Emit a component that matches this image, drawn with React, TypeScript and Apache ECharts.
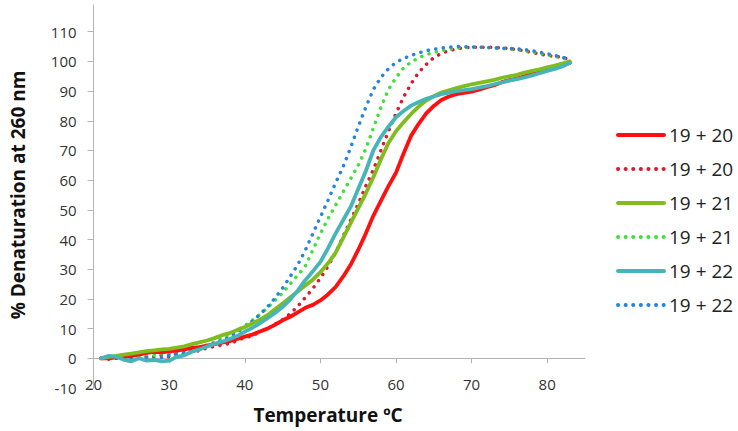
import React, { useEffect, useRef } from "react";
import * as echarts from "echarts";

const temps = [21, 22, 23, 24, 25, 26, 27, 28, 29, 30, 31, 32, 33, 34, 35, 36, 37, 38, 39, 40, 41, 42, 43, 44, 45, 46, 47, 48, 49, 50, 51, 52, 53, 54, 55, 56, 57, 58, 59, 60, 61, 62, 63, 64, 65, 66, 67, 68, 69, 70, 71, 72, 73, 74, 75, 76, 77, 78, 79, 80, 81, 82, 83];

const red20Solid = [0, 0, 0.3, 0.5, 0.8, 1.2, 1.8, 2.2, 2, 2.3, 2.6, 3, 3.5, 3.8, 4.3, 4.8, 5.3, 5.8, 6.5, 7.3, 8, 9, 10, 11.3, 12.8, 14, 15.5, 17, 18, 19.5, 21.5, 24, 27.5, 31.5, 36.5, 42, 48, 53, 58, 62.5, 69, 75, 79, 82.5, 85, 87, 88.2, 89, 89.4, 89.8, 90.5, 91.3, 92, 93, 93.7, 94.2, 95, 95.8, 96.5, 97.3, 98, 98.7, 99.5];
const red20Dotted = [0, -0.3, 0, 0.2, -0.5, 0, 0.5, 0.5, 1, 0.5, 1.5, 1.5, 2.5, 2.5, 3.5, 4, 4.5, 5, 6, 7, 7.5, 9, 10, 11.5, 13, 15, 17.5, 20.5, 23.5, 27, 31, 35.5, 41, 46.5, 52, 58, 63.5, 70, 76.5, 82.5, 88, 92.5, 96.3, 99, 101.3, 102.7, 103.6, 104.2, 104.6, 104.8, 104.8, 104.8, 104.7, 104.5, 104.3, 104, 103.5, 103, 102.5, 102, 101.7, 101.4, 100.5];
const green21Solid = [0, 0.5, 0.8, 1.2, 1.6, 2, 2.4, 2.7, 3, 3.2, 3.6, 4, 4.8, 5.4, 6, 6.8, 7.8, 8.5, 9.5, 10.5, 11.8, 13, 14.5, 16.5, 18.5, 20.5, 22.5, 24.5, 26.5, 29, 32, 35.5, 40.5, 45.5, 50.5, 55.5, 61, 67, 72.5, 76.5, 79.5, 82.3, 84.8, 86.8, 88.3, 89.5, 90.3, 91, 91.7, 92.3, 92.8, 93.3, 93.8, 94.5, 95, 95.5, 96.2, 96.8, 97.3, 98, 98.6, 99.3, 100];
const green21Dotted = [0, 0, 0.2, 0.3, 0, 0.5, 0.8, 1, 1.5, 1.5, 2, 2.5, 3, 3.8, 4.5, 5.5, 6.8, 8, 9.5, 11, 12.8, 14.8, 17, 19.5, 22, 25, 28, 31, 36.5, 42, 47, 51.5, 56, 60.5, 65, 70.5, 77.5, 84.5, 90.5, 94.5, 97.8, 99.8, 101.2, 102.3, 103, 103.6, 104.1, 104.5, 104.7, 104.8, 104.8, 104.7, 104.5, 104.3, 104.1, 103.9, 103.6, 103.2, 102.7, 102.2, 101.7, 101.2, 100.5];
const teal22Solid = [0, 0.8, 0.5, -0.5, -1, 0, -0.8, -0.5, -1, -0.8, 0.5, 1, 2.2, 3, 4, 4.8, 5.6, 6.5, 7.5, 9, 10.3, 11.8, 13.5, 15.3, 17.3, 19.8, 22.8, 26.3, 29.3, 32.5, 37, 42, 46.5, 51, 57, 63, 70, 74.5, 78, 81.2, 83.3, 85.1, 86.3, 87.4, 88.2, 89, 89.5, 90, 90.3, 90.7, 91.2, 91.7, 92.3, 92.9, 93.5, 94, 94.6, 95.3, 96, 96.8, 97.5, 98.3, 99.5];
const blue22Dotted = [0, 0.2, 0, -0.3, 0, 0, 0.3, -0.3, 0.2, 1, 1.5, 2, 2.5, 3.2, 4, 5, 6, 7.2, 8.8, 10.5, 12.5, 14.8, 17.3, 20.3, 23.6, 27.5, 31.5, 36.4, 42, 47.6, 53.2, 59, 64.5, 71, 78, 84.6, 90.5, 94.6, 97.5, 99.7, 101, 102, 102.9, 103.6, 104.1, 104.5, 104.8, 105, 105, 104.9, 104.8, 104.7, 104.6, 104.5, 104.4, 104.2, 104, 103.6, 103.1, 102.6, 102, 101.4, 100.6];

const yTicks = [-10, 0, 10, 20, 30, 40, 50, 60, 70, 80, 90, 100, 110];
const xTicks = [20, 30, 40, 50, 60, 70, 80];

const seriesDefs = [
  { name: "19 + 20", values: red20Solid, color: "#ff1010", dotted: false },
  { name: "19 + 20 ", values: red20Dotted, color: "#e0182e", dotted: true },
  { name: "19 + 21", values: green21Solid, color: "#7fbc1e", dotted: false },
  { name: "19 + 21 ", values: green21Dotted, color: "#3fe03a", dotted: true },
  { name: "19 + 22", values: teal22Solid, color: "#45b5b8", dotted: false },
  { name: "19 + 22 ", values: blue22Dotted, color: "#2384e0", dotted: true },
];

const FONT = "'Open Sans', sans-serif";

export default function App() {
  const ref = useRef<HTMLDivElement>(null);
  useEffect(() => {
    if (!ref.current) return;
    const chart = echarts.init(ref.current, null, { renderer: "svg" });
    chart.setOption({
      animation: false,
      backgroundColor: "#ffffff",
      grid: { left: 93.6, right: 153, top: 5, bottom: 43, containLabel: false },
      xAxis: {
        type: "value",
        min: 20,
        max: 85,
        interval: 10,
        axisLine: { onZero: true, lineStyle: { color: "#b4b4b4", width: 1 } },
        axisTick: { show: true, length: 5, customValues: xTicks, lineStyle: { color: "#b4b4b4" } },
        axisLabel: { customValues: xTicks, margin: -12, fontSize: 15, fontFamily: FONT, color: "#333" },
        splitLine: { show: false },
      },
      yAxis: {
        type: "value",
        min: -10,
        max: 119,
        interval: 10,
        axisLine: { show: true, lineStyle: { color: "#b4b4b4", width: 1 } },
        axisTick: { show: true, length: 6, customValues: yTicks, lineStyle: { color: "#b4b4b4" } },
        axisLabel: { customValues: yTicks, margin: 17, fontSize: 15, fontFamily: FONT, color: "#333" },
        splitLine: { show: false },
      },
      legend: {
        orient: "vertical",
        left: 611,
        top: 120,
        itemWidth: 46,
        itemHeight: 14,
        itemGap: 14,
        data: seriesDefs.map((s) => s.name),
        formatter: (n: string) => n.trim(),
        itemStyle: { color: "rgba(0,0,0,0)", borderWidth: 0, borderColor: "rgba(0,0,0,0)", opacity: 0 },
        lineStyle: { width: 4, cap: "round" },
        textStyle: { fontSize: 19, lineHeight: 20, fontFamily: FONT, color: "#222" },
      },
      graphic: [
        {
          type: "text",
          x: 328,
          y: 415,
          style: {
            text: "Temperature ºC",
            font: `bold 19px ${FONT}`,
            fill: "#111",
            align: "center",
            verticalAlign: "middle",
          },
        },
        {
          type: "text",
          x: 18,
          y: 195,
          rotation: Math.PI / 2,
          style: {
            text: "% Denaturation at 260 nm",
            font: `bold 19px ${FONT}`,
            fill: "#111",
            align: "center",
            verticalAlign: "middle",
          },
        },
      ],
      series: seriesDefs.map((s) => ({
        name: s.name,
        type: "line",
        showSymbol: false,
        symbol: "none",
        data: temps.map((t, i) => [t, s.values[i]]),
        color: s.color,
        lineStyle: s.dotted
          ? { color: s.color, width: 3.5, type: [0.1, 7.5], cap: "round" }
          : { color: s.color, width: 3.8, type: "solid", cap: "round" },
        z: s.dotted ? 2 : 3,
      })),
    });
    return () => chart.dispose();
  }, []);
  return <div ref={ref} style={{ width: 738, height: 431, position: "absolute", left: 0, top: 0 }} />;
}
